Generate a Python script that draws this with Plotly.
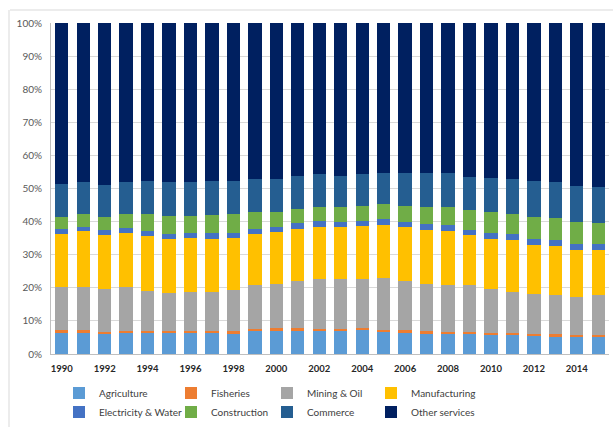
import plotly.graph_objects as go

years = list(range(1990, 2016))

agriculture = [6.4,6.4,6.1,6.2,6.2,6.2,6.3,6.2,6.3,6.8,7.0,7.0,7.0,6.8,7.3,6.5,6.3,6.1,6.1,6.1,5.8,5.6,5.6,5.3,5.2,5.3]
fisheries = [0.8,0.8,0.6,0.7,0.8,0.7,0.7,0.7,0.6,0.8,1.0,0.8,0.6,0.7,0.5,0.8,0.9,0.7,0.6,0.6,0.5,0.8,0.5,0.6,0.5,0.5]
mining_oil = [12.9,12.9,12.8,13.2,11.9,11.4,11.8,11.9,12.4,13.3,13.1,14.4,15.1,15.1,14.8,15.7,14.9,14.4,14.2,14.1,13.2,12.4,11.9,11.8,11.4,11.9]
manufacturing = [16.2,17.0,16.4,16.4,16.9,16.4,16.3,15.9,15.6,15.4,15.7,15.6,15.8,15.7,16.1,16.0,16.2,16.4,16.3,15.1,15.3,15.5,15.0,15.0,14.4,13.8]
electricity_water = [1.4,1.2,1.6,1.6,1.5,1.6,1.6,1.8,1.7,1.6,1.6,1.7,1.8,1.7,1.6,1.8,1.7,1.7,1.7,1.7,1.8,2.1,1.7,1.6,1.6,1.6]
construction = [3.8,3.9,3.8,4.2,5.0,5.4,5.1,5.5,5.7,5.1,4.6,4.2,4.2,4.3,4.4,4.5,4.7,5.2,5.5,5.8,6.2,5.9,6.6,6.7,6.9,6.4]
commerce = [9.8,9.7,9.8,9.6,10.1,10.4,10.3,10.4,10.1,9.8,9.9,10.0,9.8,9.6,9.7,9.4,9.9,10.2,10.3,10.2,10.4,10.5,10.9,11.0,10.8,11.0]
other_services = [48.7,48.1,48.9,48.1,47.6,47.9,47.9,47.6,47.6,47.2,47.1,46.3,45.7,46.1,45.6,45.3,45.4,45.3,45.3,46.4,46.8,47.2,47.8,48.0,49.2,49.5]

# legend column for each series: legend (col 1) .. legend4 (col 4)
series = [
    ("Agriculture", agriculture, "#5B9BD5", "legend"),
    ("Fisheries", fisheries, "#ED7D31", "legend2"),
    ("Mining & Oil", mining_oil, "#A5A5A5", "legend3"),
    ("Manufacturing", manufacturing, "#FFC000", "legend4"),
    ("Electricity & Water", electricity_water, "#4472C4", "legend"),
    ("Construction", construction, "#70AD47", "legend2"),
    ("Commerce", commerce, "#255E91", "legend3"),
    ("Other services", other_services, "#002060", "legend4"),
]

fig = go.Figure()
for name, vals, color, leg in series:
    fig.add_trace(go.Bar(
        x=years, y=vals, name=name, marker=dict(color=color, line=dict(width=0)),
        legend=leg,
    ))

FONT = "Lato, 'Open Sans', sans-serif"
legend_common = dict(
    orientation="v", xanchor="left", yanchor="top",
    xref="container", yref="container", y=1 - 378.5 / 427,
    font=dict(family=FONT, size=10, color="#404040"),
    bgcolor="rgba(0,0,0,0)", itemwidth=30, traceorder="normal",
    itemclick=False, itemdoubleclick=False,
)
col_px = [59, 171, 267, 371]

fig.update_layout(
    width=613, height=427,
    margin=dict(l=51, r=4, t=23, b=73, autoexpand=False),
    barmode="stack", barnorm="percent", bargap=0.38,
    plot_bgcolor="white", paper_bgcolor="white",
    font=dict(family=FONT, size=10, color="#595959"),
    xaxis=dict(
        range=[1989.5, 2015.5], tickmode="linear", tick0=1990, dtick=2,
        showgrid=False, showline=True, linecolor="#BFBFBF", linewidth=1,
        ticks="", ticklabelstandoff=6, automargin=False,
        tickfont=dict(family=FONT, size=9.5, color="#262626", weight="bold"),
        fixedrange=True,
    ),
    yaxis=dict(
        range=[0, 100], tickmode="linear", tick0=0, dtick=10, ticksuffix="%",
        showgrid=True, gridcolor="#D9D9D9", gridwidth=1,
        showline=True, linecolor="#BFBFBF", linewidth=1, zeroline=False,
        ticks="", ticklabelstandoff=6, automargin=False,
        tickfont=dict(family=FONT, size=10, color="#595959"),
        fixedrange=True,
    ),
    legend=dict(x=col_px[0] / 613, **legend_common),
    legend2=dict(x=col_px[1] / 613, **legend_common),
    legend3=dict(x=col_px[2] / 613, **legend_common),
    legend4=dict(x=col_px[3] / 613, **legend_common),
    showlegend=True,
)

# chart-area border (left and top edges visible in the frame)
fig.add_shape(type="line", xref="paper", yref="paper",
              x0=-41/558, x1=1.2, y0=(354-10)/331, y1=(354-10)/331,
              line=dict(color="#D9D9D9", width=1))
fig.add_shape(type="line", xref="paper", yref="paper",
              x0=-42/558, x1=-42/558, y0=-0.3, y1=(354-10)/331,
              line=dict(color="#D9D9D9", width=1))

fig.write_html("out.html", config={"displayModeBar": False},
               post_script="document.body.style.margin='0px';")
